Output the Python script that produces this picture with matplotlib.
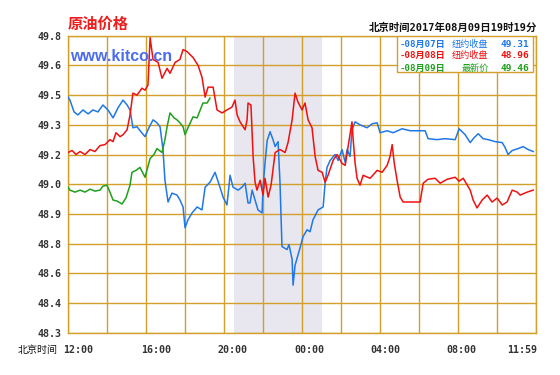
import numpy as np
import matplotlib
matplotlib.use("Agg")
from matplotlib import pyplot as plt
from matplotlib.patches import Rectangle

# hours since 12:00 Beijing time, price in USD
blue_t = [0.00, 0.10, 0.31, 0.51, 0.77, 1.03, 1.28, 1.54, 1.79, 2.05, 2.31, 2.56, 2.82, 3.03,
          3.18, 3.33, 3.54, 3.74, 3.95, 4.15, 4.36, 4.56, 4.72, 4.87, 4.97, 5.13, 5.33, 5.59,
          5.74, 5.90, 6.00, 6.15, 6.36, 6.62, 6.87, 7.03, 7.28, 7.54, 7.79, 7.95, 8.15, 8.31,
          8.46, 8.72, 8.92, 9.08, 9.23, 9.33, 9.44, 9.59, 9.74, 9.95, 10.00, 10.10, 10.21,
          10.36, 10.51, 10.62, 10.77, 10.87, 10.97, 11.23, 11.33, 11.49, 11.54, 11.64, 11.90,
          12.05, 12.26, 12.41, 12.56, 12.82, 13.08, 13.18, 13.28, 13.44, 13.69, 13.85, 14.05,
          14.21, 14.31, 14.46, 14.56, 14.72, 14.97, 15.33, 15.59, 15.85, 16.00, 16.36, 16.67,
          17.13, 17.54, 18.31, 18.46, 18.92, 19.33, 19.85, 20.05, 20.36, 20.62, 20.82, 21.03,
          21.28, 21.54, 21.90, 22.26, 22.41, 22.56, 22.77, 23.08, 23.33, 23.59, 23.85]
blue_v = [49.49, 49.475, 49.415, 49.40, 49.425, 49.405, 49.425, 49.415, 49.45, 49.425, 49.385,
          49.435, 49.475, 49.45, 49.425, 49.335, 49.34, 49.315, 49.29, 49.335, 49.375, 49.36,
          49.34, 49.225, 49.07, 48.96, 49.005, 48.995, 48.97, 48.935, 48.83, 48.87, 48.905,
          48.935, 48.92, 49.035, 49.06, 49.11, 49.035, 48.985, 48.945, 49.095, 49.035, 49.02,
          49.035, 49.055, 48.955, 48.955, 49.02, 48.97, 48.92, 48.905, 49.035, 49.155, 49.27,
          49.315, 49.275, 49.24, 49.265, 49.055, 48.735, 48.72, 48.745, 48.67, 48.54, 48.64,
          48.73, 48.785, 48.82, 48.81, 48.87, 48.92, 48.935, 49.055, 49.135, 49.17, 49.20,
          49.17, 49.225, 49.16, 49.225, 49.19, 49.325, 49.365, 49.35, 49.335, 49.355, 49.36,
          49.31, 49.32, 49.31, 49.33, 49.32, 49.32, 49.28, 49.275, 49.28, 49.275, 49.33, 49.30,
          49.26, 49.285, 49.305, 49.28, 49.275, 49.265, 49.26, 49.235, 49.20, 49.22, 49.23,
          49.24, 49.225, 49.215]

red_t = [0.00, 0.21, 0.41, 0.62, 0.87, 1.13, 1.38, 1.64, 1.90, 2.15, 2.31, 2.46, 2.67, 2.82,
         3.03, 3.18, 3.33, 3.54, 3.79, 3.95, 4.10, 4.21, 4.36, 4.62, 4.82, 5.08, 5.23, 5.49,
         5.74, 5.90, 6.10, 6.41, 6.67, 6.87, 7.03, 7.18, 7.44, 7.64, 7.90, 8.15, 8.41, 8.56,
         8.67, 8.82, 9.08, 9.18, 9.23, 9.38, 9.49, 9.59, 9.69, 9.85, 10.00, 10.10, 10.26,
         10.41, 10.62, 10.87, 11.13, 11.28, 11.49, 11.64, 11.79, 12.00, 12.15, 12.31, 12.51,
         12.67, 12.82, 13.03, 13.18, 13.33, 13.59, 13.79, 14.05, 14.21, 14.36, 14.56, 14.62,
         14.72, 14.82, 14.97, 15.13, 15.49, 15.85, 16.10, 16.36, 16.51, 16.62, 16.72, 16.87,
         17.03, 17.18, 18.05, 18.21, 18.46, 18.82, 19.08, 19.44, 19.85, 20.05, 20.26, 20.62,
         20.77, 20.97, 21.23, 21.49, 21.74, 22.00, 22.26, 22.51, 22.77, 23.03, 23.18, 23.54,
         23.85]
red_v = [49.21, 49.22, 49.20, 49.215, 49.20, 49.225, 49.215, 49.245, 49.25, 49.275, 49.265,
         49.31, 49.29, 49.30, 49.325, 49.40, 49.51, 49.50, 49.535, 49.525, 49.55, 49.79,
         49.68, 49.665, 49.585, 49.635, 49.61, 49.665, 49.68, 49.73, 49.72, 49.69, 49.65,
         49.59, 49.49, 49.54, 49.54, 49.425, 49.41, 49.425, 49.44, 49.475, 49.40, 49.365,
         49.325, 49.375, 49.46, 49.45, 49.19, 49.06, 49.02, 49.07, 48.995, 49.08, 48.985,
         49.045, 49.21, 49.225, 49.21, 49.26, 49.375, 49.51, 49.465, 49.425, 49.46, 49.375,
         49.335, 49.19, 49.12, 49.11, 49.06, 49.095, 49.17, 49.20, 49.155, 49.145, 49.24,
         49.365, 49.275, 49.155, 49.08, 49.045, 49.095, 49.08, 49.12, 49.11, 49.145, 49.19,
         49.25, 49.16, 49.07, 48.985, 48.96, 48.96, 49.055, 49.075, 49.08, 49.055, 49.075,
         49.085, 49.065, 49.08, 49.02, 48.97, 48.93, 48.97, 48.995, 48.96, 48.98, 48.945,
         48.96, 49.02, 49.01, 48.995, 49.01, 49.02]

green_t = [0.00, 0.10, 0.36, 0.62, 0.87, 1.13, 1.38, 1.64, 1.79, 2.00, 2.15, 2.31, 2.51, 2.77,
           2.97, 3.18, 3.28, 3.49, 3.69, 3.95, 4.21, 4.41, 4.56, 4.82, 4.97, 5.08, 5.23, 5.44,
           5.59, 5.74, 5.90, 6.00, 6.15, 6.41, 6.62, 6.92, 7.13, 7.28]
green_v = [49.035, 49.02, 49.01, 49.02, 49.01, 49.025, 49.015, 49.02, 49.04, 49.045, 49.01,
           48.97, 48.965, 48.95, 48.98, 49.045, 49.11, 49.12, 49.135, 49.085, 49.18, 49.20,
           49.23, 49.21, 49.275, 49.34, 49.41, 49.385, 49.375, 49.36, 49.34, 49.30, 49.335,
           49.39, 49.385, 49.46, 49.46, 49.485]

ytick_vals = np.linspace(48.3, 49.8, 11)
ytick_labels = ['48.3', '48.4', '48.6', '48.8', '48.9', '49.0', '49.2', '49.3', '49.5', '49.6', '49.8']
xtick_pos = [0.51, 4.51, 8.41, 12.36, 16.26, 20.15, 23.28]
xtick_labels = ['12:00', '16:00', '20:00', '00:00', '04:00', '08:00', '11:59']

legend_dates = ['-08月07日', '-08月08日', '-08月09日']
legend_names = ['纽约收盘', '纽约收盘', '最新价']
legend_vals = ['49.31', '48.96', '49.46']

BLUE = '#1f78e8'
RED = '#f01010'
GREEN = '#1ea01e'
GOLD = '#d2a02a'
MIXED = ['DejaVu Sans Mono', 'Noto Sans CJK SC']

fig = plt.figure(figsize=(5.6, 3.75), dpi=100)
ax = fig.add_axes([0.1214, 0.1128, 0.836, 0.792])

ax.axvspan(8.5, 13.0, color='#e8e6ee', lw=0, zorder=0)
for h in np.arange(0, 25, 2):
    ax.axvline(h, color=GOLD, lw=1.0, zorder=1)
for v in ytick_vals:
    ax.axhline(v, color=GOLD, lw=1.0, zorder=1)

ax.text(0.005, 0.93, 'www.kitco.cn', transform=ax.transAxes, fontsize=11.5,
        fontweight='bold', color='#4a6cf0', family='Liberation Sans', zorder=1.5,
        va='center', ha='left')

ax.plot(blue_t, blue_v, color=BLUE, lw=1.1, zorder=3)
ax.plot(red_t, red_v, color=RED, lw=1.1, zorder=3)
ax.plot(green_t, green_v, color=GREEN, lw=1.1, zorder=4)

ax.set_xlim(0, 24)
ax.set_ylim(48.3, 49.8)
for s in ax.spines.values():
    s.set_color(GOLD)
    s.set_linewidth(1.0)

ax.set_yticks(ytick_vals)
ax.set_yticklabels(ytick_labels, family='DejaVu Sans Mono', fontweight='bold',
                   fontsize=7.2, color='#333333')
ax.set_xticks(xtick_pos)
ax.set_xticklabels(xtick_labels, family='DejaVu Sans Mono', fontweight='bold',
                   fontsize=7.2, color='#333333')
ax.tick_params(axis='both', length=0)
ax.tick_params(axis='y', pad=5)
ax.tick_params(axis='x', pad=9)

# legend box
ax.add_patch(Rectangle((0.703, 0.878), 0.291, 0.122, transform=ax.transAxes,
                       facecolor='white', edgecolor=GOLD, lw=1.0, zorder=5))
colors = [BLUE, RED, GREEN]
rows = [0.972, 0.932, 0.891]
for i in range(3):
    ax.text(0.709, rows[i], legend_dates[i], transform=ax.transAxes, color=colors[i],
            family=MIXED, fontsize=6.6, fontweight='bold', va='center', ha='left', zorder=6)
    ax.text(0.898, rows[i], legend_names[i], transform=ax.transAxes, color=colors[i],
            family='Noto Sans CJK SC', fontsize=6.6, va='center', ha='right', zorder=6)
    ax.text(0.986, rows[i], legend_vals[i], transform=ax.transAxes, color=colors[i],
            family='DejaVu Sans Mono', fontsize=6.8, fontweight='bold', va='center',
            ha='right', zorder=6)

fig.text(0.121, 0.936, '原油价格', color='#ee1c1c', fontsize=11, fontweight='bold',
         family='Noto Sans CJK SC', va='center', ha='left')
fig.text(0.959, 0.925, '北京时间2017年08月09日19时19分', color='#111111', fontsize=7.5,
         family=MIXED, fontweight='bold', va='center', ha='right')
fig.text(0.032, 0.067, '北京时间', color='#111111', fontsize=7.2,
         family='Noto Sans CJK SC', va='center', ha='left')

fig.savefig('out.png', dpi=100, facecolor='white')
